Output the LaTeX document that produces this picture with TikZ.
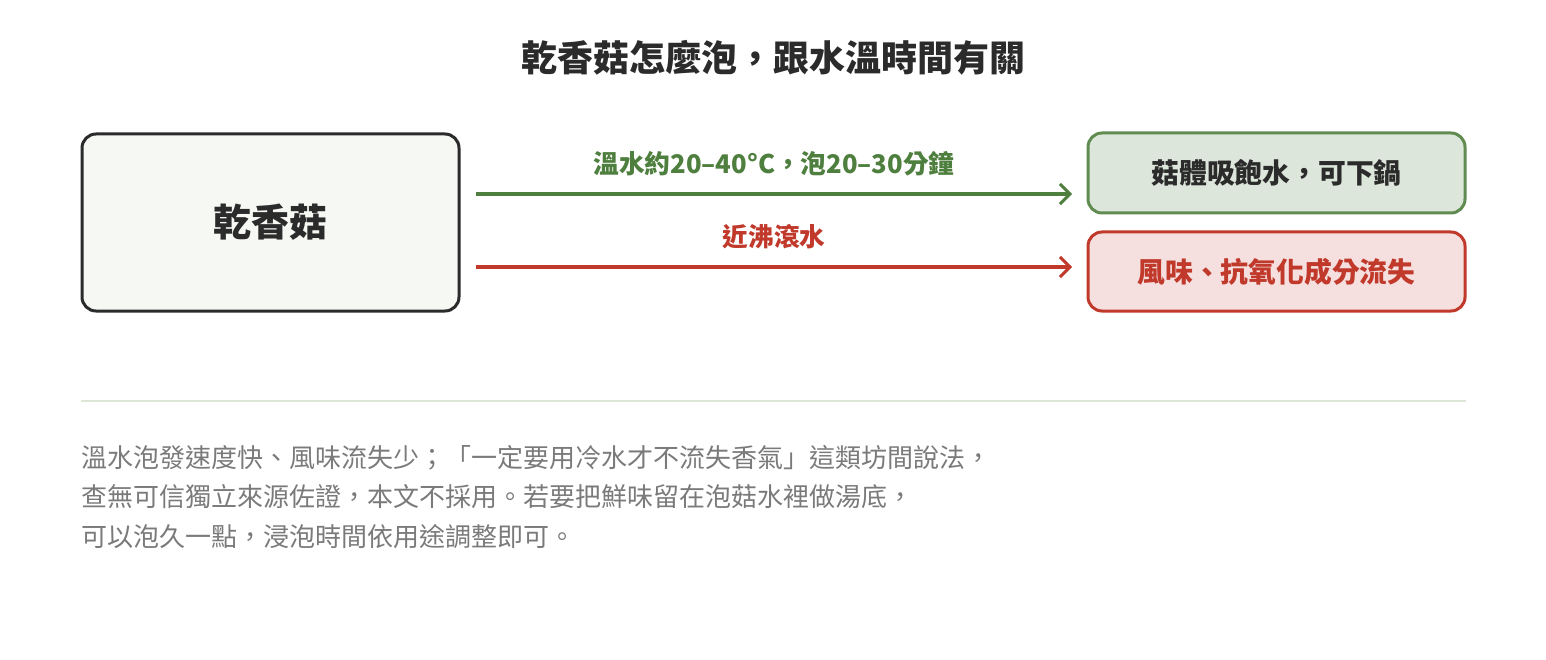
\documentclass[tikz,border=0pt]{standalone}
\usepackage{fontspec}
\setmainfont{Noto Sans CJK TC}
\usetikzlibrary{arrows.meta}
\definecolor{dark}{HTML}{2B2B2B}
\definecolor{grn}{HTML}{4E7F3E}
\definecolor{grnfill}{HTML}{DDE6DA}
\definecolor{rd}{HTML}{C0392B}
\definecolor{rdfill}{HTML}{F5E0DF}
\definecolor{lfill}{HTML}{F6F8F3}
\definecolor{rule}{HTML}{DDE5D6}
\definecolor{txt}{HTML}{7A7A7A}
\begin{document}
\begin{tikzpicture}[x=1pt,y=-1pt,
  box/.style={draw, line width=3pt, rounded corners=14pt, minimum width=377pt, inner sep=0pt},
  lbl/.style={font=\fontsize{25.7}{30}\selectfont\bfseries},
  blbl/.style={font=\fontsize{27.8}{32}\selectfont\bfseries},
  arr/.style={line width=4pt, -{Straight Barb[length=10pt,width=20pt,line width=3pt]}},
  para/.style={anchor=west, text=txt, font=\fontsize{26}{30}\selectfont, inner sep=0pt}]
\useasboundingbox (0,0) rectangle (1546,660);
\node[font=\fontsize{36}{42}\selectfont\bfseries, text=dark] (title) at (773,58) {乾香菇怎麼泡，跟水溫時間有關};
\node[box, draw=dark, fill=lfill, minimum height=177pt, font=\fontsize{38}{44}\selectfont\bfseries, text=dark] (src) at (270.5,222.5) {乾香菇};
\node[box, draw=grn!90, fill=grnfill, minimum height=80pt, blbl, text=dark] (ok) at (1276.5,173) {菇體吸飽水，可下鍋};
\node[box, draw=rd, fill=rdfill, minimum height=79pt, blbl, text=rd] (bad) at (1276.5,271.5) {風味、抗氧化成分流失};
\coordinate (g1) at (476,194); \coordinate (g2) at (1072,194);
\coordinate (r1) at (476,267); \coordinate (r2) at (1072,267);
\draw[arr, grn] (g1) -- (g2) node[midway, above=13pt, lbl, text=grn] (gl) {溫水約20–40°C，泡20–30分鐘};
\draw[arr, rd] (r1) -- (r2) node[midway, above=13pt, lbl, text=rd] (rl) {近沸滾水};
\coordinate (d1) at (81,401); \coordinate (d2) at (1466,401);
\draw[rule, line width=1.5pt] (d1) -- (d2);
\node[para] (p1) at (81,458) {溫水泡發速度快、風味流失少；「一定要用冷水才不流失香氣」這類坊間說法，};
\node[para] (p2) at (81,497) {查無可信獨立來源佐證，本文不採用。若要把鮮味留在泡菇水裡做湯底，};
\node[para] (p3) at (81,537) {可以泡久一點，浸泡時間依用途調整即可。};
\end{tikzpicture}
\end{document}
